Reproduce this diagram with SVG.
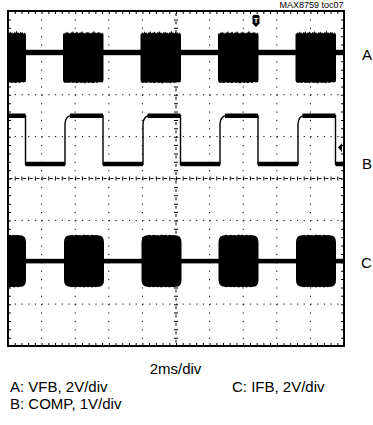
<svg xmlns="http://www.w3.org/2000/svg" xmlns:xlink="http://www.w3.org/1999/xlink" width="373" height="425" viewBox="0 0 373 425">
<style>
text{font-family:"Liberation Sans",Arial,Helvetica,sans-serif;fill:#000}
.lbl{font-size:15px}
.dotH{stroke:#000;stroke-width:1;stroke-dasharray:1.2 5.52;fill:none}
.dotV{stroke:#000;stroke-width:1;stroke-dasharray:1.2 7.175;fill:none}
.plat{stroke:#000;stroke-width:4.5;fill:none}
.edge{stroke:#000;stroke-width:1.4;fill:none}
</style>
<defs>
<clipPath id="scr"><rect x="8" y="11" width="336" height="335"/></clipPath>
<path id="burstA" d="M0,35 L0.5,33 L1.5,34 L2,32 L3,33.5 L4,31.5 L5,33 L6,32.5 L7,34 L8,32 L9,33 L10,31 L11,33.5 L12,32.5 L13,33 L14,31.5 L15,32.8 L16,33.5 L17,32 L18,33 L19,31 L20,33 L21,32.5 L22,34 L23,32 L24,33 L25,31.5 L26,33.2 L27,32.6 L28,33.8 L29,32 L30,33 L31,30.5 L32,33 L33,32.4 L34,33.6 L35,31.8 L36,33 L37,32 L38,34 L39,32.5 L40,33.5 L40.5,35 V80 L40,82 L38,82.5 L36,82 L34,83 L32,82.3 L30,83.2 L28,82.4 L26,83 L24,82.2 L22,83.4 L20,82.5 L18,83 L16,82.3 L14,83.2 L12,82.4 L10,83 L8,82.2 L6,83.1 L4,82.5 L2,83 L0.5,82 L0,80 Z" fill="#000"/>
<path id="burstC" d="M0,242 Q0,235.5 6,235.2 L8,234.8 L10,235.4 L12,234.7 L14,235.3 L16,234.9 L18,235.5 L20,234.6 L22,235.3 L24,234.8 L26,235.4 L28,234.7 L30,235.2 L32,234.9 L34,235.2 Q40,235.5 40,242 V280 Q40,287 34,286.8 L32,287.3 L30,286.7 L28,287.4 L26,286.8 L24,287.3 L22,286.7 L20,287.4 L18,286.8 L16,287.3 L14,286.7 L12,287.3 L10,286.8 L8,287.2 L6,286.8 Q0,286.5 0,280 Z" fill="#000"/>
</defs>

<g id="grid">
<line class="dotH" x1="8" y1="52.9" x2="344" y2="52.9"/>
<line class="dotH" x1="8" y1="94.75" x2="344" y2="94.75"/>
<line class="dotH" x1="8" y1="136.6" x2="344" y2="136.6"/>
<line class="dotH" x1="8" y1="220.4" x2="344" y2="220.4"/>
<line class="dotH" x1="8" y1="262.25" x2="344" y2="262.25"/>
<line class="dotH" x1="8" y1="304.1" x2="344" y2="304.1"/>
<line class="dotV" x1="41.6" y1="11" x2="41.6" y2="346"/>
<line class="dotV" x1="75.2" y1="11" x2="75.2" y2="346"/>
<line class="dotV" x1="108.8" y1="11" x2="108.8" y2="346"/>
<line class="dotV" x1="142.4" y1="11" x2="142.4" y2="346"/>
<line class="dotV" x1="209.6" y1="11" x2="209.6" y2="346"/>
<line class="dotV" x1="243.2" y1="11" x2="243.2" y2="346"/>
<line class="dotV" x1="276.8" y1="11" x2="276.8" y2="346"/>
<line class="dotV" x1="310.4" y1="11" x2="310.4" y2="346"/>
<!-- centre axes with minor ticks -->
<line x1="8" y1="178.5" x2="344" y2="178.5" stroke="#000" stroke-width="1" stroke-dasharray="3 3.72" stroke-dashoffset="-1.5"/>
<line x1="8" y1="178.5" x2="344" y2="178.5" stroke="#000" stroke-width="4" stroke-dasharray="1 5.72"/>
<line x1="176" y1="11" x2="176" y2="346" stroke="#000" stroke-width="1" stroke-dasharray="3 5.375" stroke-dashoffset="-2"/>
<line x1="176" y1="11" x2="176" y2="346" stroke="#000" stroke-width="4" stroke-dasharray="1 7.375"/>
<!-- frame edge ticks -->
<line x1="8" y1="13" x2="344" y2="13" stroke="#000" stroke-width="2" stroke-dasharray="1 5.72"/>
<line x1="8" y1="344" x2="344" y2="344" stroke="#000" stroke-width="2" stroke-dasharray="1 5.72"/>
<line x1="10" y1="11" x2="10" y2="346" stroke="#000" stroke-width="2" stroke-dasharray="1 7.375"/>
<line x1="342" y1="11" x2="342" y2="346" stroke="#000" stroke-width="2" stroke-dasharray="1 7.375"/>
</g>

<g id="traceA" clip-path="url(#scr)">
<rect x="8" y="49.8" width="336" height="5.4" fill="#000"/>
<use xlink:href="#burstA" href="#burstA" x="-14.5"/>
<use xlink:href="#burstA" href="#burstA" x="63"/>
<use xlink:href="#burstA" href="#burstA" x="140.5"/>
<use xlink:href="#burstA" href="#burstA" x="218"/>
<use xlink:href="#burstA" href="#burstA" x="295.5"/>
</g>

<g id="traceB" clip-path="url(#scr)">
<path class="plat" d="M8,115.7 H25.5 M70,115.7 H103 M147.5,115.7 H180.5 M225,115.7 H258 M302.5,115.7 H335.5"/>
<path class="plat" d="M25.5,164 H65 M103,164 H143 M180.5,164 H220 M258,164 H298 M335.5,164 H344"/>
<path class="edge" d="M25.5,115 V165 M103,115 V165 M180.5,115 V165 M258,115 V165 M335.5,115 V165"/>
<path class="edge" d="M65,165 V124 Q65.5,116 71,115.7 M143,165 V124 Q143.5,116 149,115.7 M220,165 V124 Q220.5,116 226,115.7 M298,165 V124 Q298.5,116 304,115.7"/>
</g>

<g id="traceC" clip-path="url(#scr)">
<rect x="8" y="258.8" width="336" height="4.6" fill="#000"/>
<use xlink:href="#burstC" href="#burstC" x="-14"/>
<use xlink:href="#burstC" href="#burstC" x="64"/>
<use xlink:href="#burstC" href="#burstC" x="141.5"/>
<use xlink:href="#burstC" href="#burstC" x="218.5"/>
<use xlink:href="#burstC" href="#burstC" x="296"/>
</g>

<g id="frame">
<rect x="8" y="11" width="336" height="335" fill="none" stroke="#000" stroke-width="2"/>
</g>

<g id="markers">
<g id="trigger">
<path d="M252.5,16.5 Q252.5,14.8 254.5,14.8 H257.5 Q259.5,14.8 259.5,16.5 V23.5 L256,27 L252.5,23.5 Z" fill="#000"/>
<text x="256" y="23" font-size="7.5" font-weight="bold" text-anchor="middle" style="fill:#fff">T</text>
</g>
<path id="refB" d="M338,147.5 L342,143 V152 Z" fill="#000"/>
</g>

<g id="labels">
<text x="343.5" y="8" font-size="9" text-anchor="end">MAX8759 toc07</text>
<text class="lbl" x="362" y="60">A</text>
<text class="lbl" x="362" y="169">B</text>
<text class="lbl" x="361" y="268">C</text>
<text class="lbl" x="175.5" y="374" text-anchor="middle">2ms/div</text>
<text class="lbl" x="10" y="392">A: VFB, 2V/div</text>
<text class="lbl" x="232" y="392">C: IFB, 2V/div</text>
<text class="lbl" x="10" y="409">B: COMP, 1V/div</text>
</g>
</svg>
